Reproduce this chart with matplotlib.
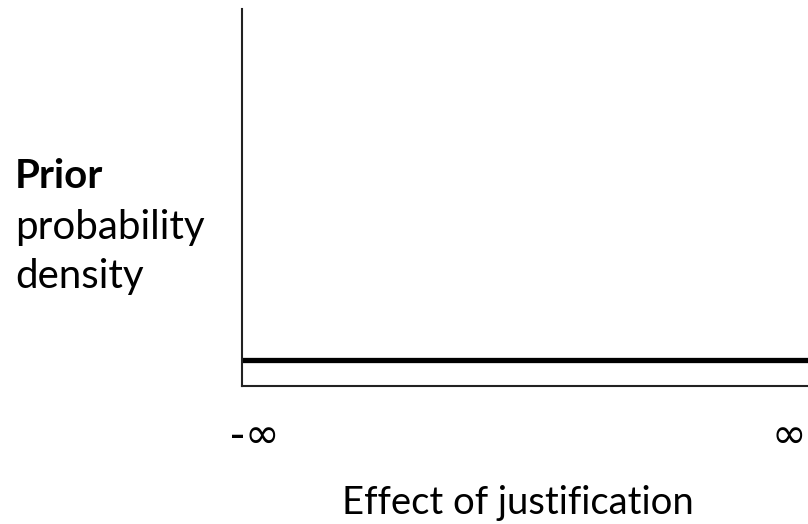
import matplotlib
matplotlib.use("Agg")
import matplotlib.pyplot as plt

plt.rcParams['font.family'] = ['Lato', 'DejaVu Sans']

x_vals = [0.0, 1.0]
density = [0.07, 0.07]
tick_labels = ["-∞", "∞"]
xlabel = "Effect of justification"

W, H = 808, 524
fig = plt.figure(figsize=(W/100, H/100), dpi=100)
ax = fig.add_axes([242/W, 1-386/H, 1-242/W + 0.01, (386-9)/H])
ax.plot(x_vals, density, color='black', linewidth=3.8, solid_capstyle='butt')
ax.set_xlim(0, 1)
ax.set_ylim(0, 1)
for s in ['top', 'right']:
    ax.spines[s].set_visible(False)
for s in ['left', 'bottom']:
    ax.spines[s].set_linewidth(1.5)
    ax.spines[s].set_color('#222222')
ax.set_xticks([])
ax.set_yticks([])

fig.text(230/W, 1-436/H, tick_labels[0], ha='left', va='center', fontsize=30,
         family=['DejaVu Sans'])
fig.text(789/W, 1-436/H, tick_labels[1], ha='center', va='center', fontsize=30,
         family=['DejaVu Sans'])
fig.text(518/W, 1-514/H, xlabel, ha='center', va='baseline', fontsize=27.5)

fig.text(15/W, 1-188/H, "Prior", ha='left', va='baseline', fontsize=29, fontweight='bold')
fig.text(15/W, 1-239/H, "probability", ha='left', va='baseline', fontsize=29)
fig.text(15/W, 1-288/H, "density", ha='left', va='baseline', fontsize=29)

fig.savefig("out.png", dpi=100)
